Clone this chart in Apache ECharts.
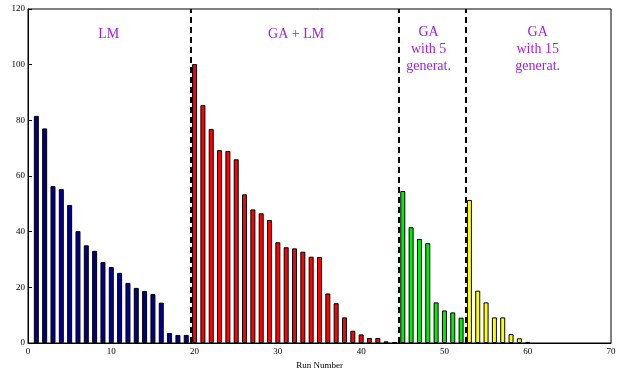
<!DOCTYPE html>
<html><head><meta charset="utf-8">
<script src="https://cdn.jsdelivr.net/npm/echarts@6/dist/echarts.min.js"></script>
<style>html,body{margin:0;padding:0;background:#fff}#c{width:625px;height:374px}</style>
</head><body><div id="c"></div>
<script>
const lmRuns = [1,2,3,4,5,6,7,8,9,10,11,12,13,14,15,16,17,18,19];
const lmErr = [81.6,77.1,56.4,55.3,49.6,40.2,35.1,33.1,29.1,27.3,25.2,21.6,19.8,18.7,17.6,14.5,3.6,2.9,2.9];
const galmRuns = [20,21,22,23,24,25,26,27,28,29,30,31,32,33,34,35,36,37,38,39,40,41,42,43,44];
const galmErr = [100.2,85.5,76.9,69.3,69,66,53.4,48,46.6,44.2,36.2,34.4,34,32.8,31,30.9,17.8,14.3,9.2,4.4,3.1,1.8,1.8,0.6,0.3];
const ga5Runs = [45,46,47,48,49,50,51,52];
const ga5Err = [54.6,41.6,37.4,35.9,14.6,11.7,11,9.1];
const ga15Runs = [53,54,55,56,57,58,59,60];
const ga15Err = [51.4,18.8,14.6,9.2,9.2,3.2,1.7,0.4];
const separators = [19.5, 44.5, 52.5];
const xTicks = [0,10,20,30,40,50,60,70];
const yTicks = [0,20,40,60,80,100,120];
const annotations = [
  {text:'LM', x:9.7, y:111},
  {text:'GA + LM', x:32.2, y:111},
  {text:'GA\nwith 5\ngenerat.', x:48.1, y:105.5},
  {text:'GA\nwith 15\ngenerat.', x:61.2, y:105.5}
];
const serif = '"Liberation Serif", "DejaVu Serif", serif';
const pairs = (xs, ys) => xs.map((x,i)=>[x, ys[i]]);
const barStyle = c => ({color:c, borderColor:'#000', borderWidth:1});
const chart = echarts.init(document.getElementById('c'));
chart.setOption({
  animation:false,
  grid:{left:28, right:14, top:9, bottom:31, outerBoundsMode:'none', containLabel:false,
    show:true, borderColor:'#000', borderWidth:1},
  xAxis:{type:'value', min:0, max:70, interval:10,
    name:'Run Number', nameLocation:'middle', nameGap:17,
    nameTextStyle:{fontFamily:serif, fontSize:9, color:'#000'},
    axisLine:{lineStyle:{color:'#000'}}, axisTick:{show:false},
    axisLabel:{fontFamily:serif, fontSize:9, color:'#000', margin:4,
      formatter:v=>xTicks.includes(v)?String(v):''},
    splitLine:{show:false}},
  yAxis:{type:'value', min:0, max:120, interval:20,
    name:'Average Error (%)', nameLocation:'middle', nameGap:18, nameRotate:90,
    nameTextStyle:{fontFamily:serif, fontSize:9, color:'#000'},
    axisLine:{show:true, lineStyle:{color:'#000'}},
    axisTick:{show:true, inside:true, length:4, lineStyle:{color:'#000'}},
    axisLabel:{fontFamily:serif, fontSize:9, color:'#000', margin:3,
      formatter:v=>yTicks.includes(v)?String(v):''},
    splitLine:{show:false}},
  series:[
    {type:'bar', stack:'all', barWidth:5, data:pairs(lmRuns,lmErr), itemStyle:barStyle('#00008b'),
     markLine:{silent:true, symbol:'none', label:{show:false},
       lineStyle:{color:'#000', type:[6,4], width:2},
       data:separators.map(v=>({xAxis:v}))},
     markPoint:{symbol:'circle', symbolSize:0,
       label:{show:true, color:'#a020f0', fontFamily:serif, fontSize:14, lineHeight:17, align:'center', verticalAlign:'middle',
         formatter:p=>p.name},
       data:annotations.map(a=>({name:a.text, coord:[a.x,a.y]}))}},
    {type:'bar', stack:'all', barWidth:5, data:pairs(galmRuns,galmErr), itemStyle:barStyle('#ff0000')},
    {type:'bar', stack:'all', barWidth:5, data:pairs(ga5Runs,ga5Err), itemStyle:barStyle('#00ee00')},
    {type:'bar', stack:'all', barWidth:5, data:pairs(ga15Runs,ga15Err), itemStyle:barStyle('#ffff00')}
  ]
});
</script></body></html>
